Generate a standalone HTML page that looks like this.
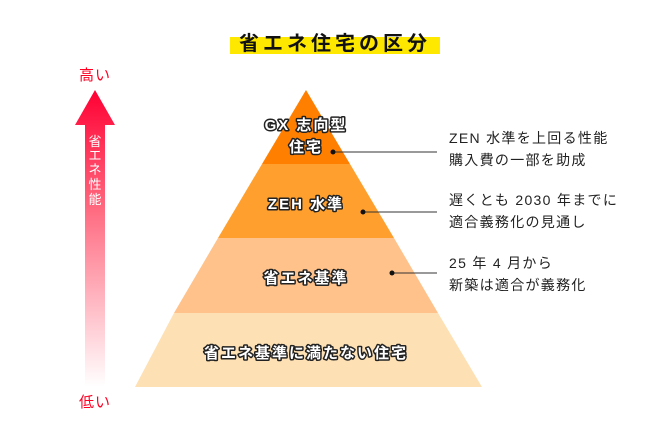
<!DOCTYPE html>
<html><head><meta charset="utf-8"><style>
html,body{margin:0;padding:0;background:#fff;}
svg{display:block;font-family:"Liberation Sans","Noto Sans CJK JP",sans-serif;}
.w{fill:#fff;stroke:#222;stroke-width:3;paint-order:stroke;stroke-linejoin:round;font-weight:bold;font-size:15px;text-anchor:middle;letter-spacing:2px;}
.r{fill:#222;font-size:14px;letter-spacing:1.3px;}
</style></head><body>
<svg width="670" height="440" viewBox="0 0 670 440">
<defs><linearGradient id="g" x1="0" y1="0" x2="0" y2="1">
<stop offset="0" stop-color="#ff0033"/><stop offset="0.4" stop-color="#ff6a80"/><stop offset="1" stop-color="#ffffff"/></linearGradient></defs>
<rect x="230" y="37" width="210" height="17" fill="#ffe800"/>
<text x="335" y="50" font-size="20" font-weight="bold" text-anchor="middle" fill="#111" letter-spacing="4">省エネ住宅の区分</text>
<text x="95" y="80" font-size="15" fill="#ff0022" text-anchor="middle" letter-spacing="1">高い</text>
<text x="95" y="407" font-size="15" fill="#ff0022" text-anchor="middle" letter-spacing="1">低い</text>
<polygon points="95,90 115,125 105,125 105,387 85,387 85,125 75,125" fill="url(#g)"/>
<g fill="#fff" font-size="13" text-anchor="middle"><text x="95" y="146">省</text><text x="95" y="160">エ</text><text x="95" y="174">ネ</text><text x="95" y="189">性</text><text x="95" y="204">能</text></g>
<polygon points="306,90 350,164 262,164" fill="#ff7f00"/>
<polygon points="262,164 350,164 394,238 218,238" fill="#ffa02e"/>
<polygon points="218,238 394,238 438,313 174,313" fill="#ffc28a"/>
<polygon points="174,313 438,313 482,387 135,387" fill="#fde0b3"/>
<text class="w" x="306" y="130">GX 志向型</text>
<text class="w" x="306" y="152">住宅</text>
<text class="w" x="306" y="209">ZEH 水準</text>
<text class="w" x="306" y="283">省エネ基準</text>
<text class="w" x="306" y="358">省エネ基準に満たない住宅</text>
<g stroke="#333" stroke-width="1"><line x1="333" y1="152" x2="437" y2="152"/><line x1="363" y1="212" x2="437" y2="212"/><line x1="392" y1="273" x2="437" y2="273"/></g>
<g fill="#111"><circle cx="333" cy="152" r="2.5"/><circle cx="363" cy="212" r="2.5"/><circle cx="392" cy="273" r="2.5"/></g>
<text class="r" x="449" y="143">ZEN 水準を上回る性能</text>
<text class="r" x="449" y="165">購入費の一部を助成</text>
<text class="r" x="449" y="205">遅くとも 2030 年までに</text>
<text class="r" x="449" y="227">適合義務化の見通し</text>
<text class="r" x="449" y="268">25 年 4 月から</text>
<text class="r" x="449" y="290">新築は適合が義務化</text>
</svg>
</body></html>
